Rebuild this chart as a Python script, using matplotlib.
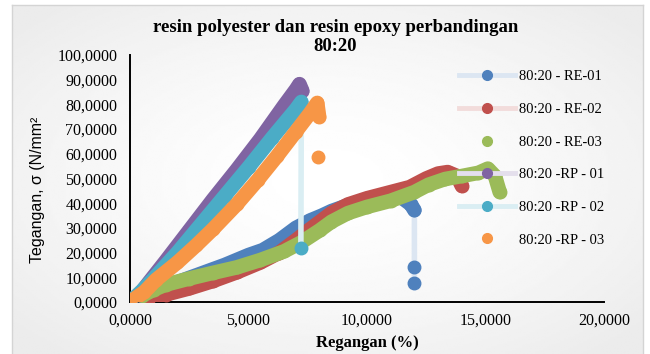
import numpy as np
import matplotlib.pyplot as plt
from matplotlib.lines import Line2D

# nilai: regangan (%) vs tegangan (N/mm2)
re01_x = [0.0, 1.0, 2.0, 3.0, 4.0, 5.0, 5.6, 6.3, 7.0, 7.6, 8.1, 8.5, 9.2, 10.0, 11.0, 11.5, 11.85, 12.0, 12.0, 12.0]
re01_y = [0.0, 4.0, 8.0, 11.5, 15.0, 19.0, 21.0, 25.0, 30.0, 33.0, 35.0, 36.8, 39.2, 41.0, 43.0, 42.0, 39.5, 37.2, 14.2, 7.7]

re02_x = [0.0, 0.8, 1.5, 2.5, 3.5, 4.5, 5.5, 6.3, 7.0, 7.6, 8.5, 9.2, 10.0, 11.0, 11.8, 12.5, 13.0, 13.4, 13.8, 14.0]
re02_y = [0.0, 1.5, 3.0, 5.5, 8.5, 12.0, 16.0, 20.0, 25.0, 29.5, 36.0, 39.5, 42.0, 44.5, 46.5, 50.0, 52.0, 52.6, 51.0, 47.0]

re03_x = [0.0, 0.5, 1.0, 1.5, 2.5, 3.5, 4.5, 5.5, 6.5, 7.2, 8.0, 8.5, 9.2, 10.0, 11.0, 12.0, 12.6, 13.3, 14.0, 14.7, 15.1, 15.4, 15.6]
re03_y = [0.0, 2.5, 5.0, 7.0, 9.5, 11.8, 14.0, 17.0, 20.5, 24.0, 29.0, 32.5, 36.0, 38.5, 41.0, 44.5, 47.5, 49.8, 51.0, 52.3, 54.0, 51.0, 44.5]

rp01_x = [0.0, 0.4, 0.8, 1.5, 2.5, 3.5, 4.5, 5.5, 6.5, 7.0, 7.15, 7.27]
rp01_y = [0.0, 3.0, 8.0, 16.5, 29.0, 41.5, 53.5, 66.0, 79.5, 86.0, 88.2, 85.5]

rp02_x = [0.0, 0.5, 1.0, 2.0, 3.0, 4.0, 5.0, 6.0, 7.0, 7.23, 7.21]
rp02_y = [0.0, 4.5, 9.5, 20.0, 31.5, 43.0, 54.5, 66.5, 78.0, 81.0, 21.8]

rp03_x = [0.0, 0.6, 1.1, 2.0, 2.8, 3.5, 4.5, 5.4, 6.2, 7.0, 7.6, 7.9, 7.98, 7.94]
rp03_y = [0.0, 4.0, 9.0, 16.0, 23.0, 29.5, 39.5, 49.5, 59.0, 69.0, 76.5, 80.6, 75.0, 58.7]

labels = ['80:20 - RE-01', '80:20 - RE-02', '80:20 - RE-03',
          '80:20 -RP - 01', '80:20 -RP - 02', '80:20 -RP - 03']
colors = ['#4F81BD', '#C0504D', '#9BBB59', '#8064A2', '#4BACC6', '#F79646']
pale = ['#DCE6F2', '#F2DCDB', None, '#E4DFEC', '#DAEEF3', None]
band_len = [18, 20, 23, 12, 10, 13]  # titik yang membentuk pita tebal

series = [(re01_x, re01_y), (re02_x, re02_y), (re03_x, re03_y),
          (rp01_x, rp01_y), (rp02_x, rp02_y), (rp03_x, rp03_y)]

fig = plt.figure(figsize=(6.5, 3.54), dpi=100)
fig.patch.set_facecolor('white')

# latar gradasi seperti chart excel
bg = fig.add_axes([12 / 650, 0, 631 / 650, 349 / 354], zorder=-10)
gy, gx = np.mgrid[-1:1:200j, -1:1:300j]
grad = 1 - 0.075 * np.clip(np.sqrt(gx ** 2 + gy ** 2) / 1.3, 0, 1) ** 1.5
bg.imshow(grad, cmap='gray', vmin=0, vmax=1, aspect='auto', interpolation='bilinear')
bg.set_xticks([])
bg.set_yticks([])
for s in bg.spines.values():
    s.set_color('#d4d4d4')
    s.set_linewidth(1.0)
bg.spines['bottom'].set_visible(False)

ax = fig.add_axes([130 / 650, 1 - 302 / 354, 474 / 650, 247 / 354])
ax.patch.set_alpha(0)

for i, (x, y) in enumerate(series):
    z = 2 + i
    if pale[i] is not None:
        ax.plot(x, y, color=pale[i], lw=4, zorder=z, solid_capstyle='butt')
    n = band_len[i]
    ax.plot(x[:n], y[:n], color=colors[i], lw=10.5, zorder=z,
            solid_capstyle='round', solid_joinstyle='round')
    ax.plot(x, y, linestyle='none', marker='o', ms=9, color=colors[i], zorder=z)

ax.set_xlim(0, 20)
ax.set_ylim(0, 100)
ax.set_xticks([0, 5, 10, 15, 20])
ax.set_yticks(np.arange(0, 101, 10))
ax.set_xticklabels([f'{v:.4f}'.replace('.', ',') for v in ax.get_xticks()],
                   fontsize=11.5, family='Liberation Serif')
ax.set_yticklabels([f'{v:.4f}'.replace('.', ',') for v in ax.get_yticks()],
                   fontsize=11.5, family='Liberation Serif')
ax.tick_params(axis='both', length=0)
ax.tick_params(axis='y', pad=9)
ax.tick_params(axis='x', pad=8)
for side in ['top', 'right']:
    ax.spines[side].set_visible(False)
for side in ['left', 'bottom']:
    ax.spines[side].set_linewidth(1.4)
    ax.spines[side].set_color('black')

ax.set_xlabel('Regangan (%)', fontsize=12, fontweight='bold', family='Liberation Serif', labelpad=4)
fig.text(0.057, 0.463, 'Tegangan, σ (N/mm²', rotation=90, ha='center', va='center',
         fontsize=11.5, family='Liberation Sans')
fig.text(0.516, 0.945, 'resin polyester dan resin epoxy perbandingan\n80:20',
         ha='center', va='top', fontsize=13.5, fontweight='bold', family='Liberation Serif',
         linespacing=1.1)

handles = []
for i in range(6):
    if pale[i] is not None:
        h = Line2D([], [], color=pale[i], lw=3.5, marker='o', ms=7,
                   markerfacecolor=colors[i], markeredgecolor=colors[i])
    else:
        h = Line2D([], [], linestyle='none', marker='o', ms=7, color=colors[i])
    handles.append(h)

leg = ax.legend(handles, labels, loc='upper left', bbox_to_anchor=(452 / 650, 1 - 63 / 354),
                bbox_transform=fig.transFigure, frameon=False, borderpad=0,
                handlelength=3.8, handletextpad=0.3, labelspacing=1.33,
                prop={'family': 'Liberation Serif', 'size': 10.5})
leg.set_zorder(20)

plt.savefig('out.png', dpi=100)
